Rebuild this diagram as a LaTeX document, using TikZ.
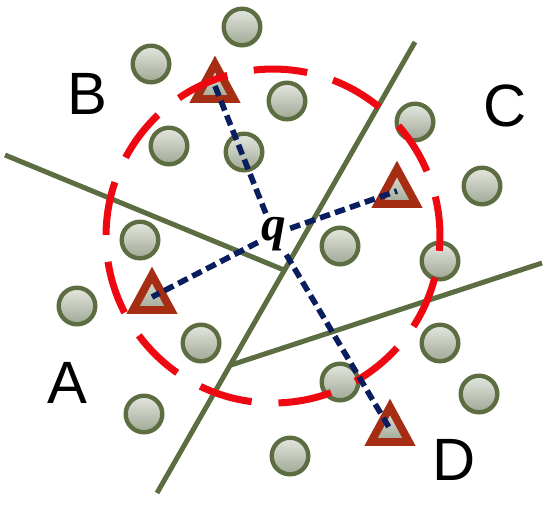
\documentclass[tikz,border=0pt]{standalone}
\usepackage{fontspec}
\setmainfont{Liberation Sans}
\newfontfamily\qfont{Liberation Serif}
\definecolor{vorgreen}{RGB}{93,109,66}
\definecolor{ptlight}{RGB}{228,231,224}
\definecolor{ptdark}{RGB}{160,168,148}
\definecolor{trired}{RGB}{165,45,20}
\definecolor{rangered}{RGB}{238,8,18}
\definecolor{querynavy}{RGB}{10,30,95}
\tikzset{
  edge/.style={vorgreen, line width=2.85pt},
  pt/.style={vorgreen, line width=2.5pt, top color=ptlight, bottom color=ptdark},
  nn/.style={trired, line width=4.5pt, line join=miter, top color=ptlight, bottom color=ptdark},
  searchcirc/.style={rangered, line width=4pt, dash pattern=on 30.6pt off 15.3pt, dash phase=8pt},
  query/.style={querynavy, line width=3.2pt, dash pattern=on 6pt off 3pt},
  region/.style={font=\fontsize{34}{40}\selectfont, inner sep=0pt},
}
\begin{document}
\begin{tikzpicture}[x=0.02cm,y=-0.02cm]
\useasboundingbox (0,0) rectangle (550,505);
% Voronoi edges
\coordinate (e1) at (415,42);
\coordinate (e2) at (157,493);
\coordinate (e3) at (5,155);
\coordinate (e4) at (542,263);
\coordinate (j1) at (284,270);
\coordinate (j2) at (231,365);
\draw[edge] (e1) -- (e2);
\draw[edge] (e3) -- (j1);
\draw[edge] (e4) -- (j2);
% data points
\foreach \x/\y in {242/27, 151/64, 287/101, 169/146, 244/152, 415/122, 482/186,
                   140/240, 340/246, 440/261, 77/306, 201/343, 440/343, 340/382,
                   144/414, 479/394, 290/456}
  \draw[pt] (\x,\y) circle[radius=0.366cm];
% nearest neighbours
\foreach \n/\x/\y in {B/215/86, C/397/191, A/152/297, D/390/429}{
  \coordinate (t\n) at (\x,\y);
  \draw[nn] (t\n) ++(0,-22) -- ++(19,35) -- ++(-38,0) -- cycle;
}
\node[inner sep=2pt, font=\qfont\fontsize{28}{32}\selectfont\bfseries\itshape] (q) at (274,234) {q};
\draw[searchcirc] (273,236) circle[radius=3.34cm];
\foreach \n in {A,B,C,D}
  \draw[query] (q) -- (t\n);
% cell labels
\node[region] (lA) at (67,383) {A};
\node[region] (lB) at (87,94) {B};
\node[region] (lC) at (505,106) {C};
\node[region] (lD) at (454,460) {D};
\end{tikzpicture}
\end{document}
